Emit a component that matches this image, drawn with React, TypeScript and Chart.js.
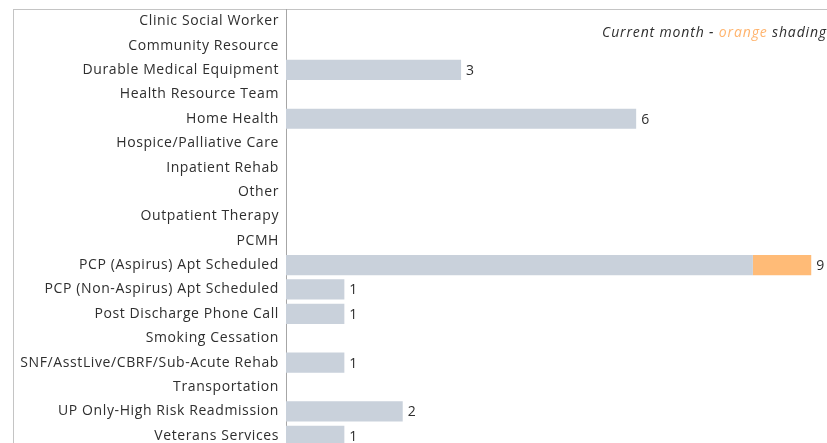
import React, { useEffect, useRef } from "react";
import { Chart, registerables } from "chart.js";

Chart.register(...registerables);

const categories = [
  "Clinic Social Worker",
  "Community Resource",
  "Durable Medical Equipment",
  "Health Resource Team",
  "Home Health",
  "Hospice/Palliative Care",
  "Inpatient Rehab",
  "Other",
  "Outpatient Therapy",
  "PCMH",
  "PCP (Aspirus) Apt Scheduled",
  "PCP (Non-Aspirus) Apt Scheduled",
  "Post Discharge Phone Call",
  "Smoking Cessation",
  "SNF/AsstLive/CBRF/Sub-Acute Rehab",
  "Transportation",
  "UP Only-High Risk Readmission",
  "Veterans Services",
];

const priorMonths = [0, 0, 3, 0, 6, 0, 0, 0, 0, 0, 8, 1, 1, 0, 1, 0, 2, 1];
const currentMonth = [0, 0, 0, 0, 0, 0, 0, 0, 0, 0, 1, 0, 0, 0, 0, 0, 0, 0];

const FONT = "'Open Sans', sans-serif";
const TEXT = "#2e2e2e";

const spacing = {
  id: "spacing",
  beforeDraw(chart: any) {
    chart.ctx.letterSpacing = "0.6px";
  },
};

const totalLabels = {
  id: "totalLabels",
  afterDatasetsDraw(chart: any) {
    const { ctx, scales } = chart;
    const xs = scales.x;
    const ys = scales.y;
    ctx.save();
    ctx.letterSpacing = "0px";
    ctx.font = `14px ${FONT}`;
    ctx.fillStyle = TEXT;
    ctx.textAlign = "left";
    ctx.textBaseline = "middle";
    categories.forEach((_, i) => {
      const total = priorMonths[i] + currentMonth[i];
      if (total > 0) {
        ctx.fillText(String(total), xs.getPixelForValue(total) + 5, ys.getPixelForValue(i) + 1);
      }
    });
    ctx.restore();
  },
};

export default function App() {
  const ref = useRef<HTMLCanvasElement | null>(null);
  useEffect(() => {
    if (!ref.current) return;
    const chart = new Chart(ref.current, {
      type: "bar",
      data: {
        labels: categories,
        datasets: [
          {
            label: "Prior",
            data: priorMonths,
            backgroundColor: "#c9d1db",
            borderWidth: 0,
            barPercentage: 0.83,
            categoryPercentage: 1,
          },
          {
            label: "Current month",
            data: currentMonth,
            backgroundColor: "#ffbb77",
            borderWidth: 0,
            barPercentage: 0.83,
            categoryPercentage: 1,
          },
        ],
      },
      options: {
        indexAxis: "y",
        responsive: false,
        animation: false,
        layout: { padding: { top: 9, bottom: 12, left: 0, right: 0 } },
        plugins: { legend: { display: false }, tooltip: { enabled: false } },
        scales: {
          x: { display: false, stacked: true, min: 0, max: 9.27 },
          y: {
            stacked: true,
            afterFit: (s: any) => {
              s.width = 286;
              s.paddingTop = 0;
              s.paddingBottom = 0;
            },
            grid: { display: false, drawTicks: false },
            border: { display: true, color: "#a6a6a6", width: 1 },
            ticks: {
              padding: 7,
              color: TEXT,
              font: { family: FONT, size: 14 },
              autoSkip: false,
            },
          },
        },
      },
      plugins: [spacing, totalLabels],
    });
    return () => chart.destroy();
  }, []);

  return (
    <div
      style={{
        position: "fixed",
        left: 0,
        top: 0,
        width: 827,
        height: 443,
        overflow: "hidden",
        background: "#fff",
      }}
    >
      <div
        style={{
          position: "absolute",
          left: 13,
          top: 9,
          width: 900,
          height: 500,
          borderLeft: "1px solid #c4c4c4",
          borderTop: "1px solid #c4c4c4",
        }}
      />
      <canvas ref={ref} width={827} height={460} style={{ position: "absolute", left: 0, top: 0 }} />
      <div
        style={{
          position: "absolute",
          right: 0,
          top: 22,
          fontFamily: FONT,
          fontStyle: "italic",
          fontSize: 14,
          letterSpacing: "0.85px",
          color: TEXT,
          whiteSpace: "nowrap",
        }}
      >
        Current month - <span style={{ color: "#ffb46e" }}>orange</span> shading
      </div>
    </div>
  );
}
